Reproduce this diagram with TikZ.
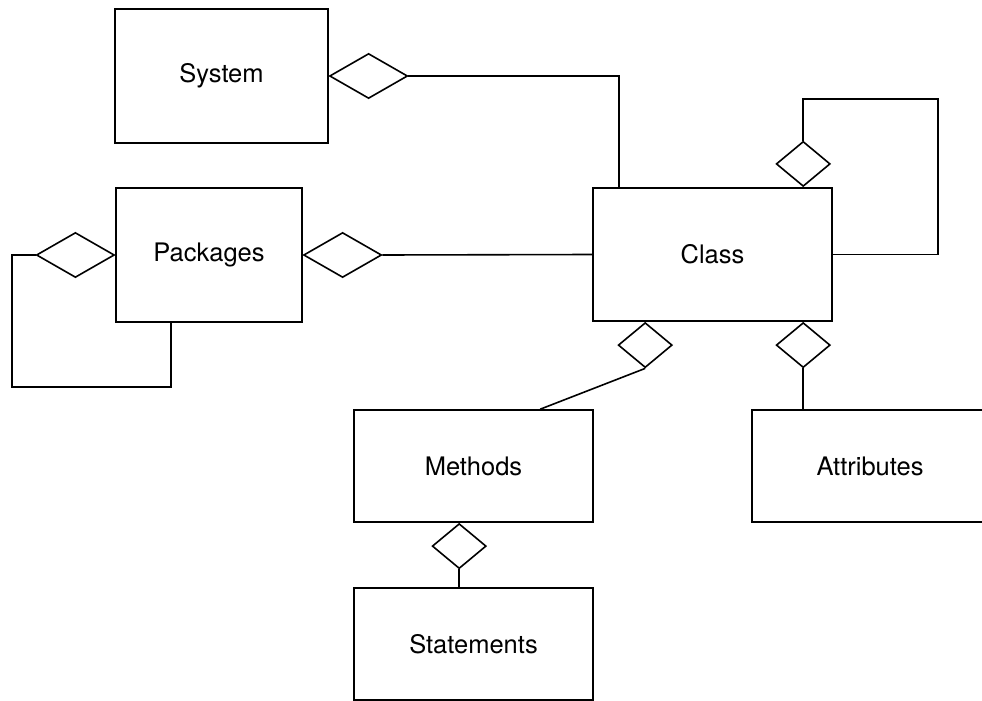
\documentclass[tikz,border=0pt]{standalone}
\usepackage{fontspec}
\setmainfont{TeX Gyre Heros}
\usetikzlibrary{shapes.geometric}
\tikzset{
  box/.style={draw, line width=1.6pt, minimum width=#1, inner sep=0pt, font=\fontsize{25.5}{30}\selectfont},
  hdia/.style={draw, diamond, line width=1.6pt, minimum width=78pt, minimum height=45pt, inner sep=0pt},
  vdia/.style={draw, diamond, line width=1.6pt, minimum width=54pt, minimum height=45pt, inner sep=0pt},
  conn/.style={line width=1.6pt}
}
\begin{document}
\begin{tikzpicture}[x=1pt, y=-1pt]
\useasboundingbox (0,0) rectangle (982,701);
\clip (0,0) rectangle (982,701);
\node[box=213pt, minimum height=134pt] (S) at (221.5,76) {System};
\node[box=186pt, minimum height=134pt] (P) at (209,255) {Packages};
\node[box=239pt, minimum height=133pt] (C) at (712.5,254.5) {Class};
\node[box=239pt, minimum height=112pt] (M) at (473.5,466) {Methods};
\node[box=239pt, minimum height=112pt] (St) at (473.5,644) {Statements};
\node[box=236pt, minimum height=112pt] (A) at (870,466) {Attributes};
% diamonds
\node[hdia, anchor=west] (d1) at (S.east) {};
\node[hdia, anchor=west] (d2) at (P.east) {};
\node[hdia, anchor=east] (d3) at (P.west) {};
\node[vdia, anchor=south] (d4) at ([xshift=211pt]C.north west) {};
\node[vdia, anchor=north] (d5) at ([xshift=53pt]C.south west) {};
\node[vdia, anchor=north] (d6) at ([xshift=211pt]C.south west) {};
\node[vdia, anchor=north] (d7) at ([xshift=106pt]M.south west) {};
% helper coordinates
\coordinate (pl1) at (12,255);
\coordinate (pl2) at (12,387);
\coordinate (cl1) at (938,99);
% connectors
\draw[conn] (d1.east) -| ([xshift=27pt]C.north west);
\draw[conn] (d2.east) -- (C.west);
\draw[conn] (d3.west) -- (pl1) -- (pl2) -| ([xshift=56pt]P.south west);
\draw[conn] (d4.north) |- (cl1) |- (C.east);
\draw[conn] (d5.south) -- ([xshift=187pt]M.north west);
\draw[conn] (d6.south) -- (d6.south |- A.north);
\draw[conn] (d7.south) -- (d7.south |- St.north);
\end{tikzpicture}
\end{document}
